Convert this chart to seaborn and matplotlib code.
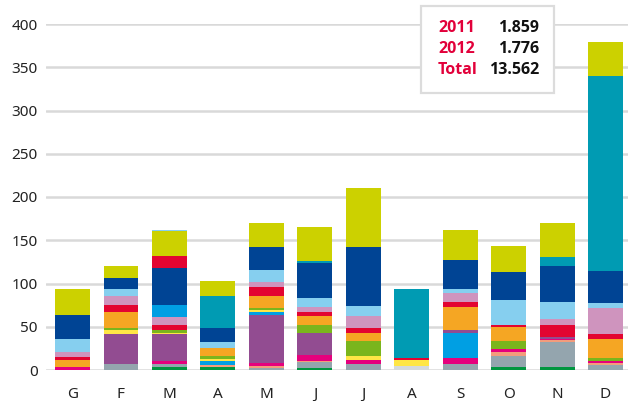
import numpy as np
import pandas as pd
import seaborn as sns
import matplotlib.pyplot as plt
from matplotlib.patches import Rectangle

months = ["G", "F", "M", "A", "M", "J", "J", "A", "S", "O", "N", "D"]

# series, bottom to top of each stack
dark_green = [0, 0, 3, 3, 0, 2.3, 0, 0, 0, 3, 3, 0]
light_gray = [0, 0, 0, 0, 0, 0, 0, 4.2, 0, 0, 0, 0]
gray = [0, 7.5, 3.5, 0, 2.3, 6.5, 6.5, 0, 6.5, 12.7, 28.9, 5.4]
salmon = [0, 0, 0, 2.3, 2.3, 1.2, 0, 0, 0, 4.6, 2.3, 2.3]
magenta = [3.5, 0, 3.5, 0, 3.5, 6.9, 4.6, 0, 6.9, 3.5, 1.2, 2.3]
blue_low = [0, 0, 0, 4.6, 0, 0, 0, 0, 28.9, 0, 0, 0]
purple = [0, 34.6, 31.2, 0, 55.4, 25.4, 0, 0, 3.5, 0, 2.3, 0]
blue_mid = [0, 0, 0, 0, 3, 0, 0, 0, 0, 0, 0, 0]
yellow = [0, 4.6, 1.2, 2.3, 2.3, 0, 4.6, 6.9, 0, 0, 0, 0]
green = [0, 2.3, 3.5, 3.5, 2.3, 9.2, 17.3, 0, 0, 9.2, 0, 3.5]
orange = [7.7, 18.5, 0, 9.2, 13.9, 11.5, 9.2, 0, 26.6, 16.2, 0, 21.9]
red = [3.5, 8, 5.8, 0, 10.4, 3.5, 6.9, 2.3, 5.8, 2.3, 13.9, 5.8]
pink = [5.8, 10.4, 9.2, 0, 5.8, 5.8, 13.9, 0, 10.4, 0, 6.9, 30]
blue_high = [0, 0, 13.9, 0, 0, 0, 0, 0, 0, 0, 0, 0]
light_blue = [15, 8, 0, 6.9, 13.9, 11.5, 11.5, 0, 4.6, 30, 19.6, 5.8]
dark_blue = [27.7, 12.7, 42.7, 17.3, 26.6, 40.4, 68.1, 0, 33.5, 32.3, 41.6, 37]
red_high = [0, 0, 13.9, 0, 0, 0, 0, 0, 0, 0, 0, 0]
teal = [0, 0, 0, 37, 0, 2.3, 0, 80.8, 0, 0, 10.4, 225.4]
yellow_green = [30, 13.9, 28.9, 17.3, 27.7, 39.3, 68.1, 0, 34.6, 30, 39.3, 39.3]
light_blue_top = [0, 0, 1.2, 0, 0, 0, 0, 0, 0, 0, 0, 0]

series = [
    (dark_green, "#009640"), (light_gray, "#d5dadd"), (gray, "#94a5ae"),
    (salmon, "#f39c7c"), (magenta, "#e5007d"), (blue_low, "#009fe3"),
    (purple, "#924c91"), (blue_mid, "#009fe3"), (yellow, "#ffe646"),
    (green, "#7ab51d"), (orange, "#f5a623"), (red, "#e30431"),
    (pink, "#cf94be"), (blue_high, "#009fe3"), (light_blue, "#86cfef"),
    (dark_blue, "#004494"), (red_high, "#e30431"), (teal, "#009bb3"),
    (yellow_green, "#ccd100"), (light_blue_top, "#86cfef"),
]

legend_years = ["2011", "2012", "Total"]
legend_vals = ["1.859", "1.776", "13.562"]

sns.set_style("white")
plt.rcParams["font.family"] = ["Noto Sans", "DejaVu Sans"]

fig = plt.figure(figsize=(6.28, 4.01), dpi=100)
ax = fig.add_axes([46 / 628, 31 / 401, 582 / 628, 346 / 401])

pos = np.arange(12)
cum = np.cumsum(np.array([s for s, c in series]), axis=0)
# draw cumulative totals from the top down so each layer covers the one above
for i in range(len(series) - 1, -1, -1):
    df = pd.DataFrame({"pos": pos, "val": cum[i]})
    sns.barplot(data=df, x="pos", y="val", color=series[i][1], saturation=1,
                width=0.72, errorbar=None, edgecolor="none", linewidth=0, ax=ax)

ax.set_xlim(-0.547, 11.464)
ax.set_ylim(0, 400)
ax.set_yticks(range(0, 401, 50))
ax.set_xticks(pos)
ax.set_xticklabels(months)
ax.set_xlabel("")
ax.set_ylabel("")
ax.grid(True, axis="y", color="#d9d9d9", linewidth=1.8)
ax.set_axisbelow(True)
for sp in ax.spines.values():
    sp.set_visible(False)
ax.tick_params(axis="both", length=0, labelsize=11, colors="#222222")
ax.tick_params(axis="y", pad=6)
ax.tick_params(axis="x", pad=12)

# summary box
fig.add_artist(Rectangle((421 / 628, 1 - 93 / 401), 133 / 628, 87 / 401,
                         transform=fig.transFigure, facecolor="white",
                         edgecolor="#dcdcdc", linewidth=1.6, zorder=5))
box_font = ["Open Sans", "DejaVu Sans"]
for k in range(3):
    y = 1 - (28 + 21 * k) / 401
    fig.text(438 / 628, y, legend_years[k], color="#e2003a", fontsize=11.5,
             fontweight="bold", family=box_font, va="center", ha="left", zorder=6)
    fig.text(539 / 628, y, legend_vals[k], color="#111111", fontsize=11.5,
             fontweight="bold", family=box_font, va="center", ha="right", zorder=6)

fig.savefig("out.png", dpi=100)
